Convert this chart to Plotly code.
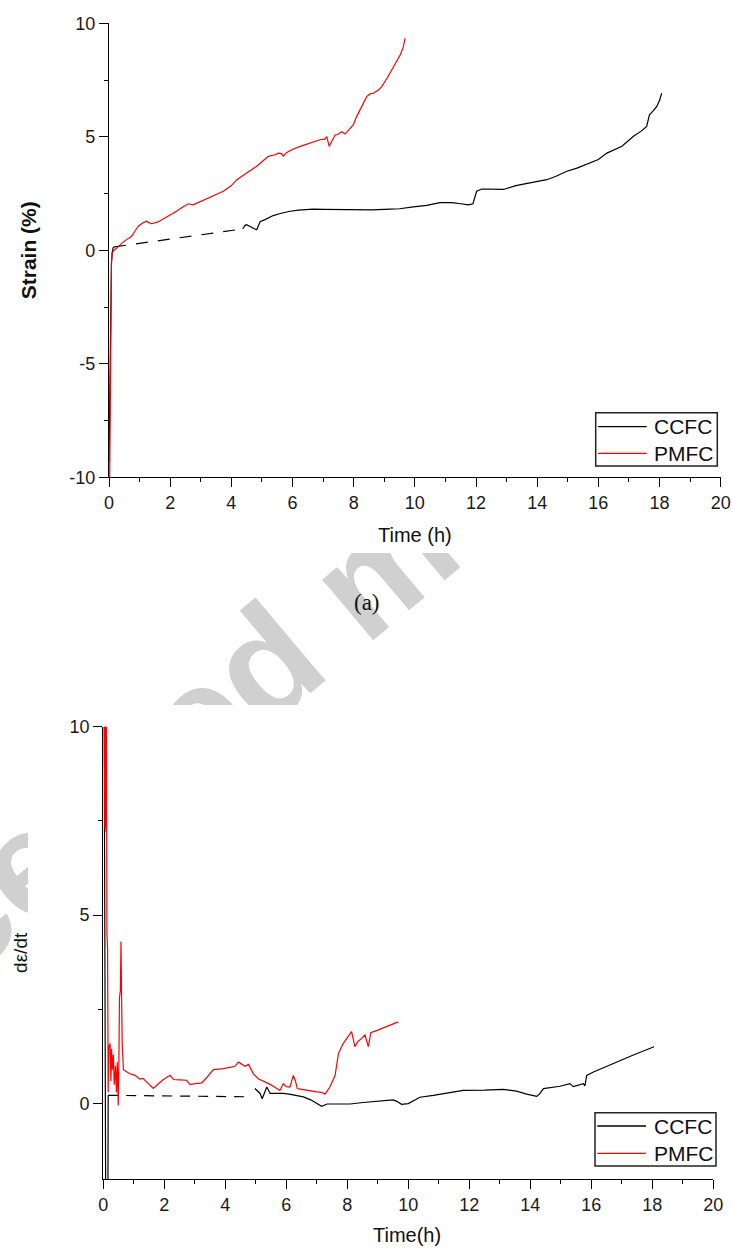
import plotly.graph_objects as go

W, H = 732, 1249

# ---------------- data: (a) strain vs time ----------------
ccfc_a_start_t = [0.0, 0.02, 0.03, 0.04, 0.05, 0.06, 0.08, 0.10, 0.13, 0.17]
ccfc_a_start_y = [-9.35, -7.0, -4.3, -3.3, -4.2, -2.0, -0.55, -0.2, 0.1, 0.15]
ccfc_a_gap_t = [0.17, 4.37]
ccfc_a_gap_y = [0.15, 0.94]
ccfc_a_t = [4.37, 4.45, 4.5, 4.6, 4.75, 4.83, 4.94, 5.1, 5.37, 5.6, 5.92, 6.2, 6.68, 7.0, 7.5,
            7.99, 8.3, 8.6, 9.19, 9.5, 9.95, 10.39, 10.82, 11.2, 11.5, 11.75, 11.9, 12.02, 12.19,
            12.5, 12.9, 13.3, 13.99, 14.31, 14.6, 14.97, 15.3, 15.73, 16.0, 16.28, 16.5, 16.77,
            17.15, 17.4, 17.58, 17.67, 17.8, 17.91, 18.0, 18.07]
ccfc_a_y = [0.94, 1.1, 1.13, 1.05, 0.95, 0.91, 1.26, 1.35, 1.53, 1.62, 1.72, 1.77, 1.81, 1.8, 1.8,
            1.78, 1.77, 1.78, 1.81, 1.83, 1.91, 1.98, 2.1, 2.1, 2.05, 2.0, 2.05, 2.6, 2.7,
            2.7, 2.68, 2.85, 3.04, 3.11, 3.25, 3.48, 3.62, 3.84, 4.0, 4.28, 4.4, 4.58,
            5.02, 5.25, 5.46, 5.97, 6.15, 6.34, 6.6, 6.92]

pmfc_a_t = [0.02, 0.04, 0.06, 0.08, 0.10, 0.15, 0.2, 0.3, 0.45, 0.58, 0.74, 0.85, 0.96, 1.1, 1.23,
            1.3, 1.4, 1.6, 1.78, 2.0, 2.21, 2.4, 2.59, 2.75, 3.0, 3.2, 3.5, 3.74, 4.0, 4.18, 4.5,
            4.83, 5.0, 5.21, 5.4, 5.55, 5.65, 5.7, 5.8, 6.03, 6.3, 6.6, 6.9, 7.05, 7.12, 7.2, 7.3,
            7.39, 7.5, 7.61, 7.72, 7.85, 7.99, 8.1, 8.21, 8.3, 8.43, 8.55, 8.64, 8.8, 8.91, 9.1,
            9.3, 9.52, 9.62, 9.68]
pmfc_a_y = [-10.5, -6.0, -2.0, -0.6, -0.1, 0.0, 0.05, 0.15, 0.35, 0.47, 0.62, 0.85, 1.06, 1.2, 1.28,
            1.22, 1.17, 1.25, 1.38, 1.55, 1.72, 1.9, 2.05, 2.0, 2.15, 2.3, 2.45, 2.6, 2.85, 3.11, 3.4,
            3.7, 3.9, 4.14, 4.2, 4.28, 4.25, 4.14, 4.3, 4.46, 4.6, 4.73, 4.87, 4.9, 5.01, 4.58, 4.85,
            5.07, 5.12, 5.22, 5.12, 5.3, 5.53, 5.9, 6.19, 6.5, 6.78, 6.9, 6.92, 7.05, 7.2, 7.6,
            8.1, 8.6, 8.95, 9.34]

# ---------------- data: (b) strain rate vs time ----------------
ccfc_b_start_t = [0.02, 0.04, 0.08, 0.15, 0.16]
ccfc_b_start_y = [12.0, 7.3, -3.0, -3.0, 0.22]
ccfc_b_gap_t = [0.16, 4.85]
ccfc_b_gap_y = [0.22, 0.18]
ccfc_b_t = [4.97, 5.05, 5.14, 5.21, 5.28, 5.36, 5.47, 5.7, 5.9, 6.1, 6.34, 6.56, 6.8, 7.0, 7.16,
            7.34, 7.7, 8.09, 8.52, 9.18, 9.5, 9.62, 9.78, 10.0, 10.38, 10.82, 11.3, 11.8, 12.5,
            13.11, 13.3, 13.55, 13.88, 14.21, 14.3, 14.43, 14.97, 15.3, 15.41, 15.74, 15.79, 15.85,
            16.07, 16.72, 17.38, 18.06]
ccfc_b_y = [0.4, 0.35, 0.27, 0.13, 0.3, 0.44, 0.27, 0.28, 0.27, 0.25, 0.22, 0.18, 0.1, 0.0, -0.07,
            -0.01, -0.01, -0.01, 0.03, 0.09, 0.1, 0.06, -0.02, 0.0, 0.17, 0.22, 0.28, 0.35, 0.36,
            0.38, 0.36, 0.33, 0.25, 0.19, 0.25, 0.4, 0.46, 0.53, 0.45, 0.53, 0.47, 0.75,
            0.84, 1.07, 1.29, 1.51]

pmfc_b_t = [0.03, 0.05, 0.07, 0.09, 0.10, 0.12, 0.14, 0.16, 0.18, 0.22, 0.25, 0.27, 0.30, 0.33,
            0.36, 0.40, 0.43, 0.46, 0.49, 0.51, 0.53, 0.56, 0.58, 0.60, 0.62, 0.66, 0.71, 0.85,
            1.04, 1.09, 1.2, 1.3, 1.45, 1.64, 1.8, 1.97, 2.19, 2.3, 2.5, 2.73, 2.84, 3.0, 3.23,
            3.4, 3.61, 3.94, 4.1, 4.32, 4.43, 4.55, 4.65, 4.76, 4.92, 5.08, 5.3, 5.47, 5.65,
            5.79, 5.9, 6.0, 6.12, 6.23, 6.3, 6.36, 6.5, 6.67, 7.0, 7.15, 7.27, 7.43, 7.6, 7.71,
            7.87, 8.0, 8.14, 8.25, 8.35, 8.47, 8.58, 8.69, 8.77, 9.0, 9.3, 9.67]
pmfc_b_y = [10.5, 7.3, 10.5, 7.2, 10.5, 4.5, 4.1, 0.3, 1.5, 1.6, 0.6, 1.45, 0.9, 1.3,
            0.5, 1.0, 0.3, 1.1, -0.05, 1.0, 2.8, 3.0, 4.3, 2.8, 1.6, 0.9, 0.87, 0.8,
            0.75, 0.71, 0.65, 0.67, 0.55, 0.4, 0.52, 0.64, 0.75, 0.64, 0.63, 0.62, 0.51, 0.52, 0.55,
            0.7, 0.9, 0.93, 0.96, 0.99, 1.1, 1.05, 0.99, 1.04, 0.79, 0.66, 0.58, 0.51, 0.42,
            0.35, 0.53, 0.45, 0.44, 0.75, 0.6, 0.40, 0.38, 0.35, 0.31, 0.3, 0.25, 0.44, 0.75, 1.33,
            1.6, 1.75, 1.91, 1.51, 1.65, 1.73, 1.82, 1.51, 1.88, 1.95, 2.05, 2.17]

x_ticks = [0, 2, 4, 6, 8, 10, 12, 14, 16, 18, 20]
ya_ticks = [-10, -5, 0, 5, 10]
ya_labels = ["-10", "-5", "0", "5", "10"]
yb_ticks = [0, 5, 10]
yb_labels = ["0", "5", "10"]
series_names = ["CCFC", "PMFC"]

# ---------------- layout helpers ----------------
def px(x):
    return x / W


def py(y):
    return 1 - y / H


BLACK = "#000000"
RED = "#ff0000"
LW = 1.2
TICKFONT = dict(family="Liberation Sans Narrow, Arial Narrow, Liberation Sans, Arial", size=18, color="#1a1a1a")
SANS = "Liberation Sans, Arial, sans-serif"

fig = go.Figure()

# (a)
fig.add_trace(go.Scatter(x=ccfc_a_start_t, y=ccfc_a_start_y, mode="lines", line=dict(color=BLACK, width=LW),
                         name=series_names[0], showlegend=False, xaxis="x", yaxis="y"))
fig.add_trace(go.Scatter(x=ccfc_a_gap_t, y=ccfc_a_gap_y, mode="lines",
                         line=dict(color=BLACK, width=LW, dash="12px,10px"),
                         name=series_names[0], showlegend=False, xaxis="x", yaxis="y"))
fig.add_trace(go.Scatter(x=ccfc_a_t, y=ccfc_a_y, mode="lines", line=dict(color=BLACK, width=LW),
                         name=series_names[0], showlegend=False, xaxis="x", yaxis="y"))
fig.add_trace(go.Scatter(x=pmfc_a_t, y=pmfc_a_y, mode="lines", line=dict(color=RED, width=LW),
                         name=series_names[1], showlegend=False, xaxis="x", yaxis="y"))

# (b)
fig.add_trace(go.Scatter(x=ccfc_b_start_t, y=ccfc_b_start_y, mode="lines", line=dict(color=BLACK, width=LW),
                         name=series_names[0], showlegend=False, xaxis="x2", yaxis="y2"))
fig.add_trace(go.Scatter(x=ccfc_b_gap_t, y=ccfc_b_gap_y, mode="lines",
                         line=dict(color=BLACK, width=LW, dash="10px,8px"),
                         name=series_names[0], showlegend=False, xaxis="x2", yaxis="y2"))
fig.add_trace(go.Scatter(x=ccfc_b_t, y=ccfc_b_y, mode="lines", line=dict(color=BLACK, width=LW),
                         name=series_names[0], showlegend=False, xaxis="x2", yaxis="y2"))
fig.add_trace(go.Scatter(x=pmfc_b_t, y=pmfc_b_y, mode="lines", line=dict(color=RED, width=LW),
                         name=series_names[1], showlegend=False, xaxis="x2", yaxis="y2"))

axis_common = dict(showline=True, linecolor=BLACK, linewidth=1.3, ticks="outside", ticklen=9,
                   tickwidth=1.3, tickcolor=BLACK, showgrid=False, zeroline=False,
                   tickfont=TICKFONT, mirror=False, automargin=False)
minor_x = dict(ticks="outside", ticklen=4, dtick=1, tick0=0, tickcolor=BLACK, tickwidth=1.3)
minor_y = dict(ticks="outside", ticklen=4, dtick=2.5, tick0=0, tickcolor=BLACK, tickwidth=1.3)

fig.update_layout(
    width=W, height=H, margin=dict(l=0, r=0, t=0, b=0, autoexpand=False),
    paper_bgcolor="white", plot_bgcolor="white", showlegend=False,
    xaxis=dict(domain=[px(109), px(720.7)], range=[0, 20], anchor="y", tickvals=x_ticks,
               minor=minor_x, **axis_common),
    yaxis=dict(domain=[py(477.3), py(23.3)], range=[-10, 10], anchor="x",
               tickvals=ya_ticks, ticktext=ya_labels, minor=minor_y,
               title=dict(text="<b>Strain (%)</b>", standoff=26,
                          font=dict(family=SANS, size=21, color="#111")),
               **axis_common),
    xaxis2=dict(domain=[px(103.3), px(713.3)], range=[0, 20], anchor="y2", tickvals=x_ticks,
                minor=minor_x, **axis_common),
    yaxis2=dict(domain=[py(1179), py(726.7)], range=[-2, 10], anchor="x2",
                tickvals=yb_ticks, ticktext=yb_labels, minor=minor_y,
                title=dict(text="dε/dt", standoff=36, font=dict(family=SANS, size=19, color="#111")),
                **axis_common),
)


def panel_mask(x0, y0, x1, y1):
    # white page area covered by a chart panel; drawn under axes and traces
    return dict(type="rect", xref="paper", yref="paper", layer="below",
                x0=px(x0), x1=px(x1), y0=py(y1), y1=py(y0),
                line=dict(width=0), fillcolor="#ffffff")


shapes = [
    # faint diagonal page watermark (behind both chart panels)
    dict(type="rect", xref="paper", yref="paper", layer="below",
         x0=px(357), x1=px(359), y0=py(568), y1=py(566),
         line=dict(width=0), fillcolor="rgba(0,0,0,0)",
         label=dict(text="Accepted manuscript", textangle=-40, textposition="middle center",
                    font=dict(family=SANS, size=150, color="#d0d0d0", weight="bold"))),
    panel_mask(0, 0, W, 553),
    panel_mask(28, 705, W, H),
]
annotations = []
# compact legend boxes as in the reference
for (bx0, by0, bx1, by1, lx0, lx1, ly1, ly2, tx) in [
    (595.7, 412.7, 717.3, 466.0, 598.0, 646.7, 426.7, 453.3, 652.0),
    (595.0, 1112.7, 716.0, 1166.0, 597.3, 646.0, 1126.0, 1153.3, 651.5),
]:
    shapes.append(dict(type="rect", xref="paper", yref="paper", x0=px(bx0), x1=px(bx1),
                       y0=py(by1), y1=py(by0), line=dict(color="#222", width=1.5), fillcolor="white"))
    for ly, col, name in [(ly1, BLACK, series_names[0]), (ly2, RED, series_names[1])]:
        shapes.append(dict(type="line", xref="paper", yref="paper", x0=px(lx0), x1=px(lx1),
                           y0=py(ly), y1=py(ly), line=dict(color=col, width=1.3)))
        annotations.append(dict(text=name, x=px(tx), y=py(ly), xref="paper", yref="paper",
                                showarrow=False, xanchor="left", yanchor="middle",
                                font=dict(family=SANS, size=21, color="#111")))

annotations += [
    dict(text="Time (h)", x=px(415), y=py(535), xref="paper", yref="paper", showarrow=False,
         font=dict(family=SANS, size=20, color="#111")),
    dict(text="(a)", x=px(367), y=py(602), xref="paper", yref="paper", showarrow=False,
         font=dict(family="Liberation Serif, Times New Roman, serif", size=23, color="#111")),
    dict(text="Time(h)", x=px(407), y=py(1248), xref="paper", yref="paper", showarrow=False,
         xanchor="center", yanchor="bottom",
         font=dict(family=SANS, size=20, color="#111")),
]
fig.update_layout(shapes=shapes, annotations=annotations)

fig.write_html("out.html")
